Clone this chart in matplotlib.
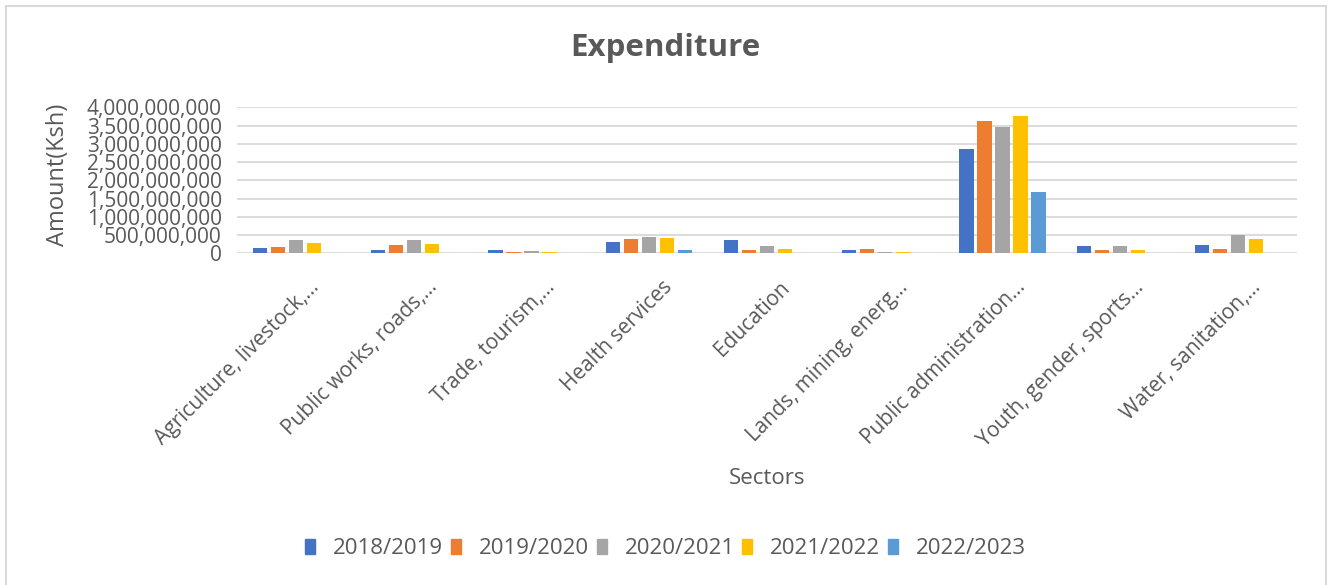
import numpy as np
import matplotlib
matplotlib.use("Agg")
import matplotlib.pyplot as plt
from matplotlib.patches import Rectangle, Patch
from matplotlib.transforms import ScaledTranslation
from matplotlib.ticker import FuncFormatter

plt.rcParams['font.family'] = ['Open Sans', 'DejaVu Sans']

sectors = ["Agriculture, livestock,...", "Public works, roads,...", "Trade, tourism,...",
           "Health services", "Education", "Lands, mining, energ...",
           "Public administration...", "Youth, gender, sports...", "Water, sanitation,..."]
years = ["2018/2019", "2019/2020", "2020/2021", "2021/2022", "2022/2023"]

# values in Ksh
fy_2018_19 = [153e6, 91e6, 82e6, 301e6, 356e6, 91e6, 2860e6, 192e6, 219e6]
fy_2019_20 = [181e6, 228e6, 46e6, 393e6, 100e6, 119e6, 3620e6, 100e6, 119e6]
fy_2020_21 = [373e6, 356e6, 60e6, 438e6, 192e6, 46e6, 3450e6, 192e6, 500e6]
fy_2021_22 = [274e6, 247e6, 40e6, 411e6, 119e6, 40e6, 3750e6, 100e6, 402e6]
fy_2022_23 = [0, 0, 0, 82e6, 0, 0, 1680e6, 0, 0]

series = [fy_2018_19, fy_2019_20, fy_2020_21, fy_2021_22, fy_2022_23]
colors = ['#4472C4', '#ED7D31', '#A5A5A5', '#FFC000', '#5B9BD5']
txt = '#595959'

fig = plt.figure(figsize=(13.31, 5.85), dpi=100)
ax = fig.add_axes([237/1331, 1-253.3/585, 1060/1331, 146/585])

x = np.arange(len(sectors))
step, w = 0.153, 0.121
for i, (vals, c) in enumerate(zip(series, colors)):
    ax.bar(x + (i - 2) * step, vals, width=w, color=c, zorder=3)

ax.set_xlim(-0.5, len(sectors) - 0.5)
ax.set_ylim(0, 4e9)
ax.set_yticks(np.arange(0, 4.01e9, 5e8))
ax.yaxis.set_major_formatter(FuncFormatter(lambda v, p: '{:,.0f}'.format(v)))
ax.yaxis.grid(True, color='#d9d9d9', lw=1.3, zorder=0)
for s in ax.spines.values():
    s.set_visible(False)
ax.tick_params(axis='y', length=0, pad=11, labelsize=15, labelcolor=txt)
ax.tick_params(axis='x', length=0, pad=0, labelsize=15, labelcolor=txt)

ax.set_xticks(x, sectors, rotation=45, ha='right', va='center', rotation_mode='anchor')
off = ScaledTranslation(20/100, -31/100, fig.dpi_scale_trans)
for lab in ax.get_xticklabels():
    lab.set_transform(lab.get_transform() + off)

fig.text(0.5, 1-48/585, "Expenditure", ha='center', va='center', fontsize=22.5,
         fontweight='bold', color=txt)
fig.text(58/1331, 1-175/585, "Amount(Ksh)", rotation=90, ha='center', va='center',
         fontsize=17, color=txt)
fig.text(767/1331, 1-478/585, "Sectors", ha='center', va='center', fontsize=16, color=txt)

handles = [Patch(color=c, label=y) for c, y in zip(colors, years)]
fig.legend(handles=handles, ncol=5, loc='center', bbox_to_anchor=(0.5, 1-549/585),
           frameon=False, fontsize=16, labelcolor=txt, handlelength=0.45, handleheight=0.65,
           handletextpad=0.8, columnspacing=0.35)

fig.patches.append(Rectangle((5.5/1331, -0.02), (1326-5.5)/1331, 1.02-5.5/585,
                             transform=fig.transFigure, fill=False,
                             edgecolor='#d9d9d9', lw=1.5))

fig.savefig("out.png", dpi=100)
